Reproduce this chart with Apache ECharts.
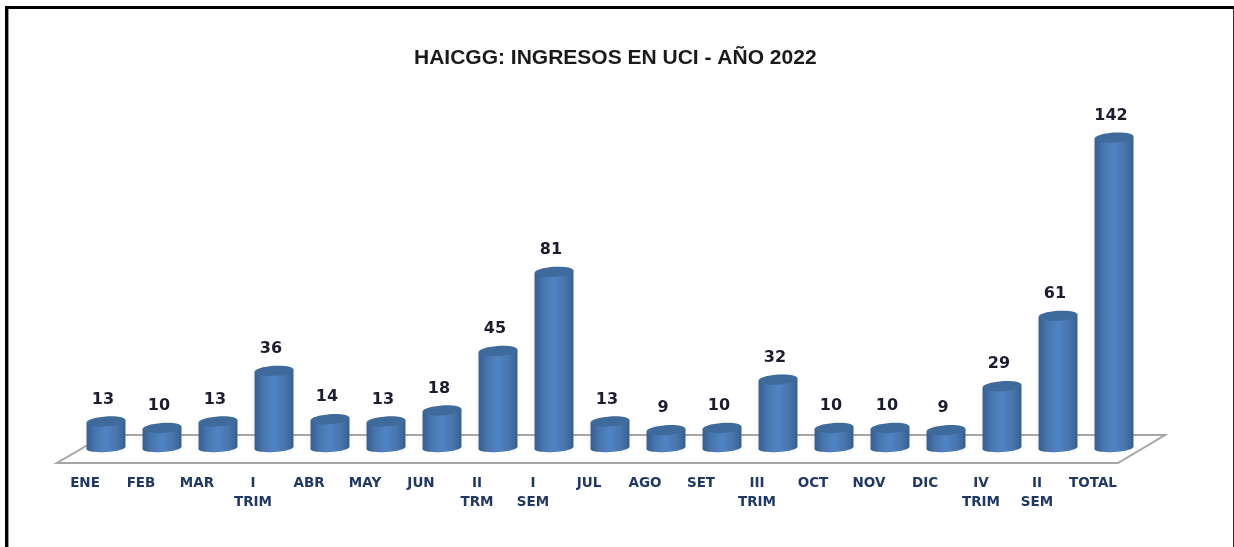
<!DOCTYPE html>
<html>
<head>
<meta charset="utf-8">
<title>HAICGG</title>
<script src="https://cdn.jsdelivr.net/npm/echarts@6/dist/echarts.min.js"></script>
<style>
  html, body { margin: 0; padding: 0; background: #fff; }
  #main { width: 1234px; height: 547px; }
</style>
</head>
<body>
<div id="main"></div>
<script>
const titleText = 'HAICGG: INGRESOS EN UCI - AÑO 2022';
const categories = ['ENE', 'FEB', 'MAR', 'I\nTRIM', 'ABR', 'MAY', 'JUN', 'II\nTRM', 'I\nSEM', 'JUL', 'AGO', 'SET', 'III\nTRIM', 'OCT', 'NOV', 'DIC', 'IV\nTRIM', 'II\nSEM', 'TOTAL'];
const ingresos = [13, 10, 13, 36, 14, 13, 18, 45, 81, 13, 9, 10, 32, 10, 10, 9, 29, 61, 142];

const chart = echarts.init(document.getElementById('main'));

// cylinder body colour, dark at the edges and lighter in the middle
const bodyFill = new echarts.graphic.LinearGradient(0, 0, 1, 0, [
  { offset: 0, color: '#365f91' },
  { offset: 0.22, color: '#4775ad' },
  { offset: 0.5, color: '#5184c4' },
  { offset: 0.78, color: '#4775ad' },
  { offset: 1, color: '#38608f' }
]);

const renderCylinder = (params, api) => {
  const x = api.coord([api.value(0), 0])[0];
  const y0 = api.coord([api.value(0), 0])[1];
  const y1 = api.coord([api.value(0), api.value(1)])[1];
  const rx = 19.5;
  const tilt = 0.07;
  const dy = rx * Math.sin(tilt);
  return {
    type: 'group',
    children: [
      {
        type: 'polygon',
        shape: { points: [[x - rx, y1 + dy], [x + rx, y1 - dy], [x + rx, y0 - 2 - dy], [x - rx, y0 - 2 + dy]] },
        style: { fill: bodyFill }
      },
      {
        type: 'ellipse',
        shape: { cx: x, cy: y0 - 2, rx: rx, ry: 4 },
        originX: x, originY: y0 - 2, rotation: tilt,
        style: { fill: bodyFill }
      },
      {
        type: 'ellipse',
        shape: { cx: x, cy: y1, rx: rx, ry: 5 },
        originX: x, originY: y1, rotation: tilt,
        style: { fill: '#3f6a9c' }
      },
      {
        type: 'text',
        style: {
          x: x - 3, y: y1 - 22,
          text: String(api.value(1)),
          align: 'center', verticalAlign: 'middle',
          font: 'bold 16px "DejaVu Sans"',
          fill: '#1c1c30'
        }
      }
    ]
  };
};

chart.setOption({
  backgroundColor: '#fff',
  animation: false,
  title: {
    text: titleText,
    left: 409,
    top: 43,
    textStyle: { fontFamily: 'Liberation Sans', fontSize: 21, fontWeight: 'bold', color: '#1a1a1a' }
  },
  grid: { left: 78, right: 92, top: 120, bottom: 97 },
  xAxis: {
    type: 'category',
    data: categories,
    axisLine: { show: false },
    axisTick: { show: false },
    axisLabel: {
      interval: 0,
      margin: 24,
      padding: [0, 42, 0, 0],
      lineHeight: 19,
      fontFamily: 'DejaVu Sans',
      fontSize: 13.5,
      fontWeight: 'bold',
      color: '#1f3864'
    }
  },
  yAxis: { type: 'value', min: 0, max: 150, show: false },
  graphic: [
    // picture frame
    { type: 'rect', shape: { x: 5, y: 6, width: 1229, height: 3 }, style: { fill: '#000' } },
    { type: 'rect', shape: { x: 5, y: 6, width: 3, height: 541 }, style: { fill: '#000' } },
    { type: 'rect', shape: { x: 8, y: 9, width: 1, height: 538 }, style: { fill: '#999' } },
    { type: 'rect', shape: { x: 1233, y: 9, width: 1, height: 538 }, style: { fill: '#333' } },
    // floor under the cylinders
    {
      type: 'polygon',
      shape: { points: [[57, 463], [1118, 463], [1165, 435], [105, 435]] },
      style: { fill: '#fff', stroke: '#a6a6a6', lineWidth: 2 }
    }
  ],
  series: [
    {
      type: 'custom',
      z: 5,
      renderItem: renderCylinder,
      encode: { x: 0, y: 1 },
      data: ingresos.map((v, i) => [i, v])
    }
  ]
});
</script>
</body>
</html>
